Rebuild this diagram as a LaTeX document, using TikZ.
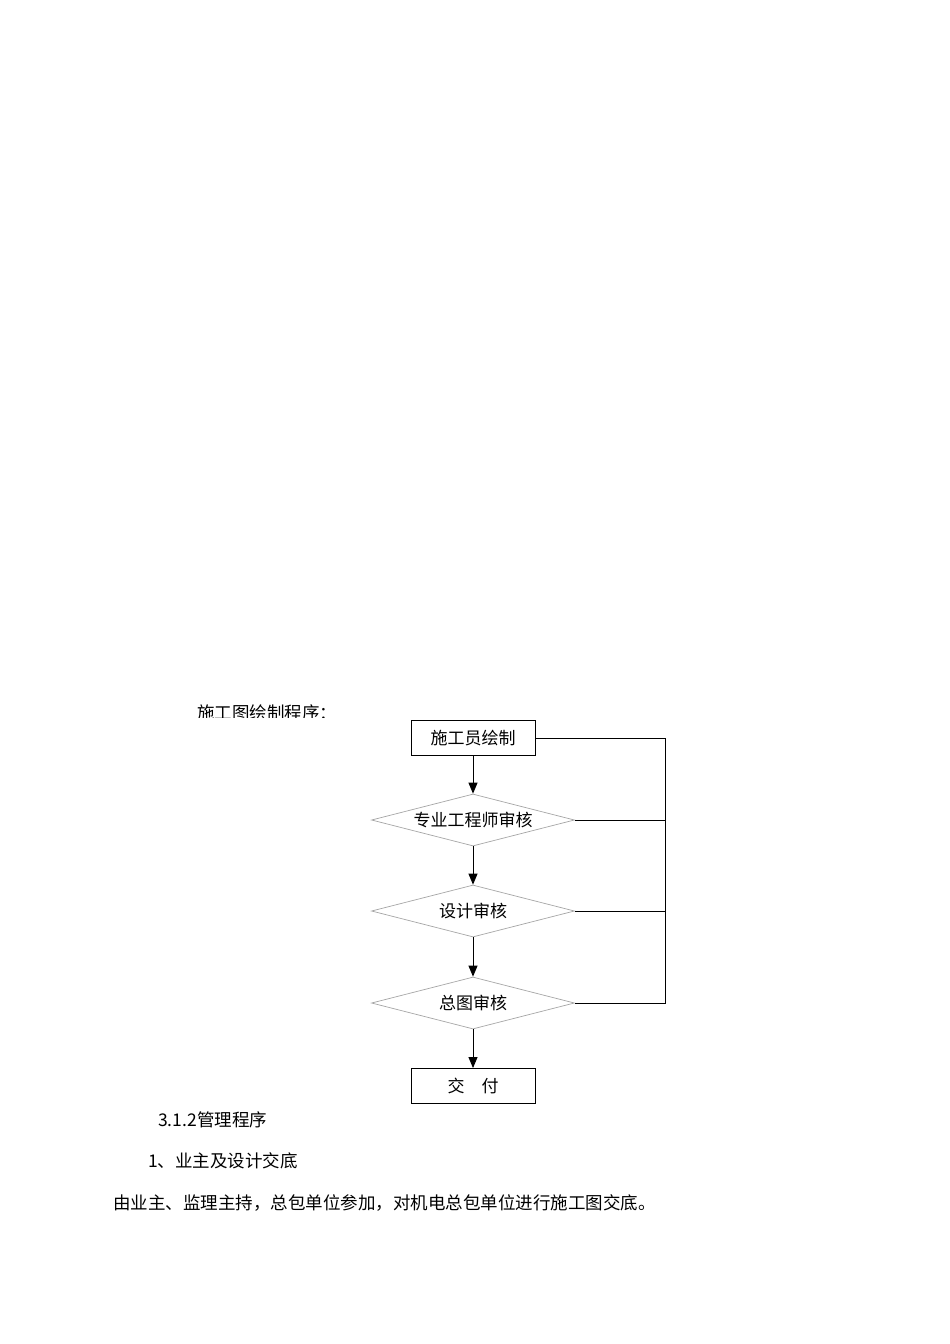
\documentclass[tikz,border=0pt]{standalone}
\usepackage{fontspec}
\setmainfont{Noto Sans CJK SC}
\newfontfamily\cjk{Noto Sans CJK SC Light}
\usetikzlibrary{shapes.geometric,arrows.meta}
\begin{document}
\begin{tikzpicture}[x=1pt,y=-1pt,
  boxst/.style={draw=black,line width=0.9pt,minimum width=124pt,minimum height=35pt,inner sep=0pt,font=\fontsize{17}{17}\selectfont},
  diast/.style={draw=gray!70,line width=0.7pt,diamond,aspect=3.9,minimum width=203pt,minimum height=52pt,inner sep=0pt,font=\fontsize{17}{17}\selectfont},
  arr/.style={-{Triangle[length=11pt,width=9pt]},line width=0.9pt},
  ln/.style={line width=0.9pt},
  body/.style={anchor=west,inner sep=0pt,font=\fontsize{17.5}{17.5}\selectfont}]
\useasboundingbox[fill=white] (0,0) rectangle (950,1344);
\begin{scope}
\clip (150,690) rectangle (400,717);
\node[body] (title) at (197,713) {施工图绘制程序：};
\end{scope}
\node[boxst] (b1) at (473,738) {施工员绘制};
\node[diast] (d1) at (473,820) {专业工程师审核};
\node[diast] (d2) at (473,911) {设计审核};
\node[diast] (d3) at (473,1003) {总图审核};
\node[boxst] (b2) at (473,1086) {交\quad 付};
\draw[arr] (b1) -- (d1);
\draw[arr] (d1) -- (d2);
\draw[arr] (d2) -- (d3);
\draw[arr] (d3) -- (b2);
\coordinate (r1) at (665,738);
\coordinate (r3) at (665,1003);
\draw[ln] (b1.east) -- (r1) -- (r3) -- (d3.east);
\draw[ln] (d1.east) -- (d1.east -| r1);
\draw[ln] (d2.east) -- (d2.east -| r1);
\node[body] (t1) at (158,1120) {3.1.2管理程序};
\node[body] (t2) at (148,1161) {1、业主及设计交底};
\node[body] (t3) at (113,1203) {由业主、监理主持，总包单位参加，对机电总包单位进行施工图交底。};
\end{tikzpicture}
\end{document}
